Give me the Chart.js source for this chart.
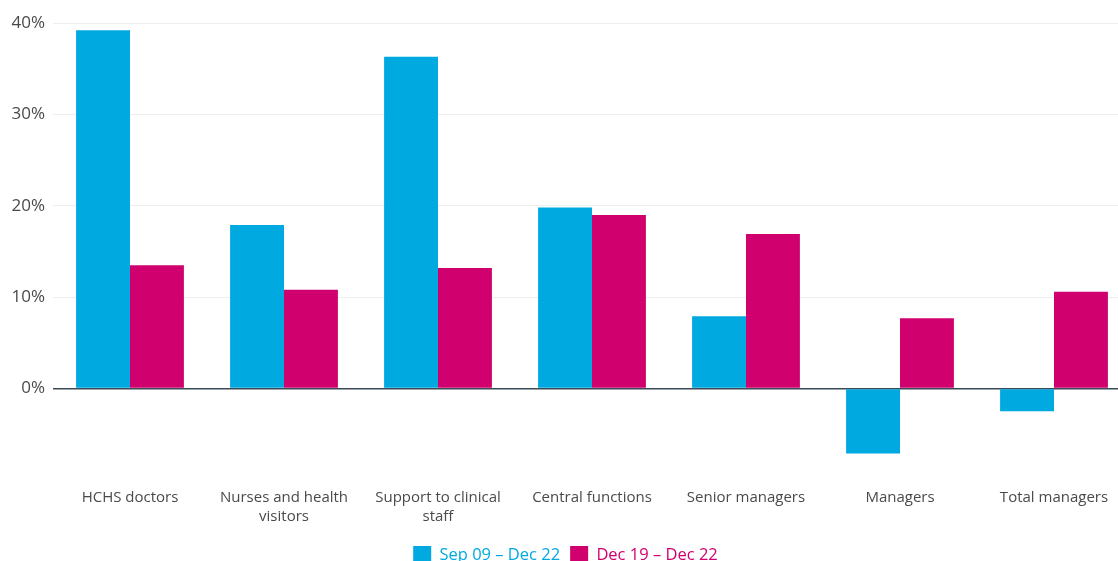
<!DOCTYPE html>
<html>
<head>
<meta charset="utf-8">
<script src="https://cdn.jsdelivr.net/npm/chart.js@4/dist/chart.umd.min.js"></script>
<style>
  html, body { margin: 0; padding: 0; background: #fff; overflow: hidden; }
  /* the plot runs a little past the right edge in the original */
  #wrap { width: 1131px; height: 561px; position: relative; }
</style>
</head>
<body>
<div id="wrap"><canvas id="c"></canvas></div>
<script>
// categories and values (percent change)
const categories = [
    'HCHS doctors',
    ['Nurses and health', 'visitors'],
    ['Support to clinical', 'staff'],
    'Central functions',
    'Senior managers',
    'Managers',
    'Total managers'
];
const seriesNames = ['Sep 09 \u2013 Dec 22', 'Dec 19 \u2013 Dec 22'];
const sep09 = [39.2, 17.9, 36.3, 19.8, 7.9, -7.1, -2.5];
const dec19 = [13.5, 10.8, 13.2, 19.0, 16.9, 7.7, 10.6];
const yTicks = [0, 10, 20, 30, 40];

const colours = ['#00a9e0', '#d0006f'];
const font = "'Open Sans', 'Noto Sans', sans-serif";

// legend sits low and is clipped by the bottom edge, like the original
const legendHeight = {
    id: 'legendHeight',
    beforeInit(chart) {
        const fit = chart.legend.fit;
        chart.legend.fit = function () {
            fit.call(this);
            this.height = 33;
        };
    }
};

const ctx = document.getElementById('c').getContext('2d');
new Chart(ctx, {
    type: 'bar',
    data: {
        labels: categories,
        datasets: [
            { label: seriesNames[0], data: sep09, backgroundColor: colours[0] },
            { label: seriesNames[1], data: dec19, backgroundColor: colours[1] }
        ]
    },
    options: {
        responsive: true,
        maintainAspectRatio: false,
        animation: false,
        layout: { padding: { top: 23, right: 0, left: 0, bottom: 0 } },
        datasets: { bar: { categoryPercentage: 0.70, barPercentage: 1.0 } },
        plugins: {
            tooltip: { enabled: false },
            legend: {
                position: 'bottom',
                title: { display: true, text: '', font: { size: 1, lineHeight: 1 }, padding: { top: 0, bottom: 7 } },
                labels: {
                    boxWidth: 18,
                    boxHeight: 18,
                    padding: 10,
                    font: { family: font, size: 16.5 },
                    generateLabels: (chart) => chart.data.datasets.map((ds, i) => ({
                        text: ds.label,
                        fillStyle: ds.backgroundColor,
                        strokeStyle: ds.backgroundColor,
                        lineWidth: 0,
                        fontColor: ds.backgroundColor,
                        datasetIndex: i
                    }))
                }
            }
        },
        scales: {
            x: {
                grid: { display: true, drawOnChartArea: false, drawTicks: true, tickLength: 6, color: 'rgba(0,0,0,0)' },
                border: { display: false },
                ticks: {
                    color: '#4a4a4a',
                    font: { family: font, size: 15, lineHeight: 1.27 },
                    padding: 2,
                    maxRotation: 0,
                    autoSkip: false
                }
            },
            y: {
                min: -10,
                max: 40,
                afterBuildTicks: (axis) => { axis.ticks = [-10].concat(yTicks).map(v => ({ value: v })); },
                afterFit: (axis) => { axis.width = 53; },
                border: { display: false },
                grid: {
                    drawTicks: false,
                    color: (c) => c.tick.value === 0 ? '#3c4a55' : (c.tick.value < 0 ? 'rgba(0,0,0,0)' : '#eeeeee'),
                    lineWidth: (c) => c.tick.value === 0 ? 1.5 : 1
                },
                ticks: {
                    color: '#4a4a4a',
                    padding: 8,
                    font: { family: font, size: 17 },
                    callback: (v) => v < 0 ? '' : v + '%'
                }
            }
        }
    },
    plugins: [legendHeight]
});
</script>
</body>
</html>
